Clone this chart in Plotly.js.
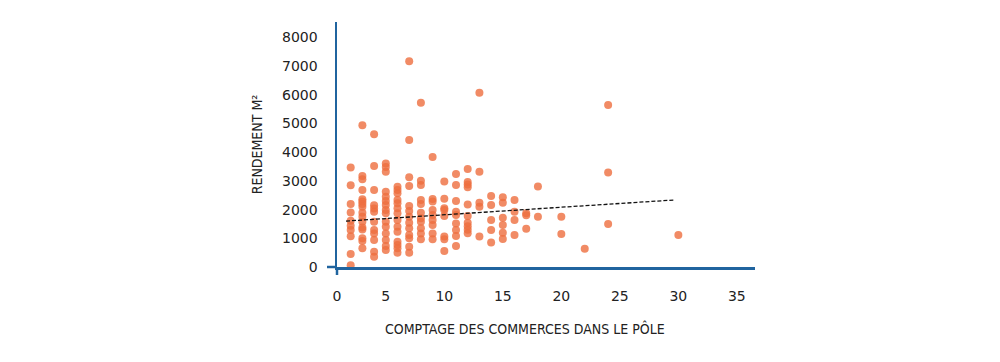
<!DOCTYPE html>
<html>
<head>
<meta charset="utf-8">
<script src="https://cdn.plot.ly/plotly-3.0.1.min.js"></script>
<style>html,body{margin:0;padding:0;background:#fff;}#chart{width:1000px;height:362px;}</style>
</head>
<body>
<div id="chart"></div>
<script>
// Number of shops in the pole (x) and yield per m² (y)
const commerces = [
  2,2,2,2,2,2,2,2,2,2,
  3,3,3,3,3,3,3,3,3,3,3,3,3,3,3,3,
  4,4,4,4,4,4,4,4,4,4,4,4,
  5,5,5,5,5,5,5,5,5,5,5,5,5,5,5,
  6,6,6,6,6,6,6,6,6,6,6,6,6,6,
  7,7,7,7,7,7,7,7,7,7,7,7,7,
  8,8,8,8,8,8,8,8,8,8,8,
  9,9,9,9,9,9,9,9,9,
  10,10,10,10,10,10,10,10,
  11,11,11,11,11,11,11,11,11,
  12,12,12,12,12,12,12,12,12,12,
  13,13,13,13,13,
  14,14,14,14,14,
  15,15,15,15,15,15,
  16,16,16,16,
  17,17,17,
  18,18,
  20,20,
  22,
  24,24,24,
  30
];
const rendement = [
  3470,2850,2200,1900,1610,1440,1290,1070,455,65,
  4940,3170,3055,2680,2360,2280,2195,2100,1890,1755,1580,1380,1310,1000,905,650,
  4630,3520,2680,2150,2040,1930,1580,1290,1170,940,535,360,
  3610,3490,3320,2625,2450,2300,2160,1985,1870,1580,1405,1170,940,730,590,
  2800,2680,2570,2335,2220,2045,1870,1640,1405,1230,880,765,650,500,
  7170,4425,3125,2820,2125,1950,1755,1545,1350,1115,1000,710,500,
  5725,3010,2860,2335,2195,1890,1695,1580,1350,1170,965,
  3830,2370,2280,1985,1810,1640,1465,1170,965,
  2980,2380,2045,1985,1775,1060,965,560,
  3240,2860,2300,1930,1810,1520,1290,1080,730,
  3420,2960,2880,2780,2180,1780,1540,1420,1300,1180,
  6075,3320,2240,2100,1060,
  2475,2160,1640,1290,850,
  2430,2240,1720,1465,1195,975,
  2335,1930,1640,1115,
  1870,1800,1335,
  2810,1755,
  1755,1150,
  640,
  5645,3290,1500,
  1115
];
// Trend line end points
const trendX = [1.6, 29.6];
const trendY = [1600, 2335];

// Axis ticks
const xTickVals = [0.83, 5, 10, 15, 20, 25, 30, 35];
const xTickText = ['0', '5', '10', '15', '20', '25', '30', '35'];
const yTickVals = [0, 1000, 2000, 3000, 4000, 5000, 6000, 7000, 8000];

const axisBlue = '#20649f';
const textCol = '#222222';
const tickFont = {family: 'DejaVu Sans, sans-serif', size: 14, color: textCol};
const titleFont = {family: 'DejaVu Sans Condensed, DejaVu Sans, sans-serif', size: 14, color: textCol};

const traces = [
  {
    type: 'scatter', mode: 'markers',
    x: commerces, y: rendement,
    marker: {size: 8, color: 'rgb(238,110,62)', opacity: 0.8, line: {width: 0}},
    hoverinfo: 'x+y', showlegend: false
  },
  {
    type: 'scatter', mode: 'lines',
    x: trendX, y: trendY,
    line: {color: '#111', width: 1.3, dash: '4px,2px'},
    hoverinfo: 'skip', showlegend: false
  }
];

const layout = {
  width: 1000, height: 362,
  margin: {l: 337, r: 245, t: 22, b: 95, pad: 0},
  paper_bgcolor: '#fff', plot_bgcolor: '#fff',
  showlegend: false,
  xaxis: {
    range: [0.83, 36.55],
    tickmode: 'array', tickvals: xTickVals, ticktext: xTickText,
    showline: true, linecolor: axisBlue, linewidth: 2.5,
    showgrid: false, zeroline: false, ticks: '',
    ticklabelstandoff: 15,
    tickfont: tickFont
  },
  yaxis: {
    range: [0, 8540],
    tickmode: 'array', tickvals: yTickVals,
    showline: true, linecolor: axisBlue, linewidth: 2.5,
    showgrid: false, zeroline: false, ticks: '',
    ticklabelstandoff: 14,
    tickfont: tickFont,
    title: {text: 'RENDEMENT M²', font: titleFont, standoff: 16}
  },
  annotations: [
    {
      text: 'COMPTAGE DES COMMERCES DANS LE PÔLE',
      xref: 'paper', yref: 'paper', x: 0.450, y: -0.253,
      xanchor: 'center', yanchor: 'middle', showarrow: false,
      font: titleFont
    }
  ],
  shapes: [
    {type: 'line', xref: 'paper', yref: 'paper', xsizemode: 'pixel', xanchor: 0,
     x0: -10, x1: 0, y0: 0, y1: 0, line: {color: axisBlue, width: 2.5}},
    {type: 'line', xref: 'paper', yref: 'paper', ysizemode: 'pixel', yanchor: 0,
     x0: 0, x1: 0, y0: -8, y1: 0, line: {color: axisBlue, width: 2.5}}
  ]
};

Plotly.newPlot('chart', traces, layout, {displayModeBar: false, staticPlot: true});
</script>
</body>
</html>
